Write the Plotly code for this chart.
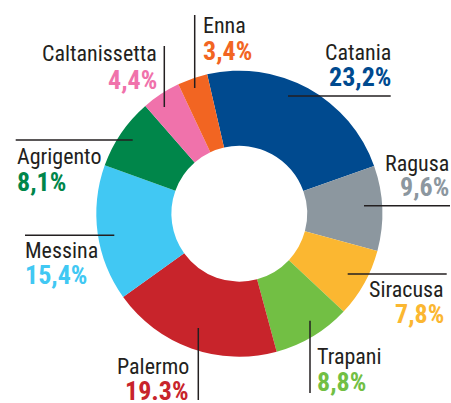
import plotly.graph_objects as go

W, H = 451, 403

provinces = ["Catania", "Ragusa", "Siracusa", "Trapani", "Palermo",
             "Messina", "Agrigento", "Caltanissetta", "Enna"]
shares = [23.2, 9.6, 7.8, 8.8, 19.3, 15.4, 8.1, 4.4, 3.4]
share_labels = ["23,2%", "9,6%", "7,8%", "8,8%", "19.3%",
                "15,4%", "8,1%", "4,4%", "3,4%"]

colors = ["#004A8F", "#8C979F", "#FBB731", "#72BF44", "#C8242B",
          "#41C8F3", "#00864A", "#F072AB", "#F26522"]

# label layout (pixels): anchor x, side, name centre y, percent centre y
label_x = [391.7, 450, 445, 316, 190, 24, 15.7, 158, 201.7]
label_side = ["right", "right", "right", "left", "right", "left", "left", "right", "left"]
name_y = [52.5, 163.5, 289, 356, 366.5, 250.5, 156.5, 54, 25]
pct_y = [77, 187, 314, 382, 391, 275, 182, 79.5, 50.5]

# leader lines (pixels): x0, y0, x1, y1
leaders = [
    (288, 96, 390.7, 96),
    (364, 205.7, 450, 205.7),
    (347.7, 274, 446.7, 274),
    (310, 320.7, 310, 393),
    (198.3, 328, 198.3, 400),
    (25, 235.3, 114.3, 235.3),
    (15.7, 140, 132.7, 140),
    (164.3, 46, 164.3, 107),
    (194.7, 15, 194.7, 88),
]

cx, cy, R = 239.3, 213.7, 143

def px(x):
    return x / W

def py(y):
    return 1 - y / H

fig = go.Figure(go.Pie(
    labels=provinces,
    values=shares,
    sort=False,
    direction="clockwise",
    rotation=-13,
    hole=0.475,
    marker=dict(colors=colors, line=dict(width=0)),
    textinfo="none",
    hoverinfo="label+percent",
    domain=dict(x=[px(cx - R), px(cx + R)], y=[py(cy + R), py(cy - R)]),
    showlegend=False,
))

name_font = "Roboto Condensed, Liberation Sans Narrow, sans-serif"

annotations = []
for i, name in enumerate(provinces):
    anchor = label_side[i]
    annotations.append(dict(
        x=px(label_x[i]), y=py(name_y[i]), xref="paper", yref="paper",
        text=name, showarrow=False, xanchor=anchor, yanchor="middle",
        borderpad=0,
        font=dict(family=name_font, size=22, color="#231F20"),
    ))
    annotations.append(dict(
        x=px(label_x[i]), y=py(pct_y[i]), xref="paper", yref="paper",
        text="<b>" + share_labels[i] + "</b>", showarrow=False,
        xanchor=anchor, yanchor="middle", borderpad=0,
        font=dict(family=name_font, size=26, color=colors[i]),
    ))

shapes = []
for (x0, y0, x1, y1) in leaders:
    shapes.append(dict(type="line", xref="paper", yref="paper",
                       x0=px(x0), y0=py(y0), x1=px(x1), y1=py(y1),
                       line=dict(color="#231F20", width=1.5)))

fig.update_layout(
    width=W, height=H, autosize=False,
    margin=dict(l=0, r=0, t=0, b=0),
    paper_bgcolor="white", plot_bgcolor="white",
    annotations=annotations, shapes=shapes,
)

fig.write_html("out.html", config={"displayModeBar": False},
               post_script="document.body.style.margin='0';")
